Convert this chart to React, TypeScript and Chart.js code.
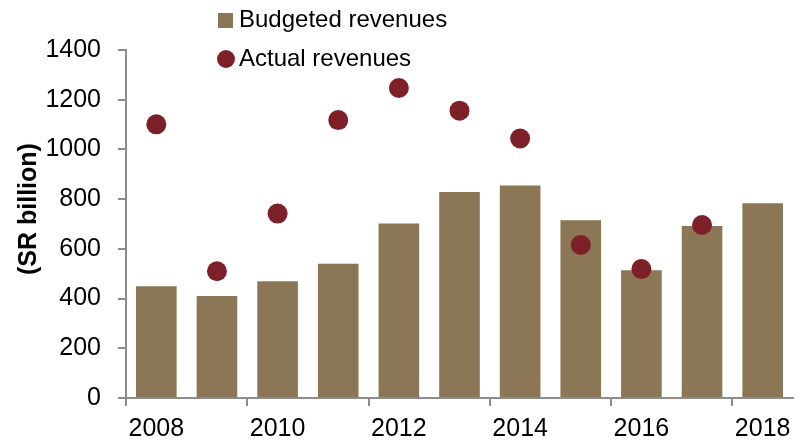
import React, { useEffect, useRef } from "react";
import { Chart, registerables } from "chart.js";

Chart.register(...registerables);

const years = ["2008", "2009", "2010", "2011", "2012", "2013", "2014", "2015", "2016", "2017", "2018"];
const budgeted = [450, 410, 470, 540, 702, 829, 855, 715, 514, 692, 783];
const actual = [1101, 510, 742, 1118, 1247, 1156, 1044, 616, 519, 696, null];
const yTicks = [0, 200, 400, 600, 800, 1000, 1200, 1400];

const BAR = "#8B7756";
const DOT = "#7D2028";
const AXIS = "#8c8c8c";
const FONT = "'Liberation Sans', Arial, sans-serif";

export default function App() {
  const ref = useRef<HTMLCanvasElement | null>(null);

  useEffect(() => {
    if (!ref.current) return;
    const chart = new Chart(ref.current, {
      data: {
        labels: years,
        datasets: [
          {
            type: "line",
            label: "Actual revenues",
            data: actual,
            showLine: false,
            pointRadius: 10,
            pointHoverRadius: 10,
            pointBackgroundColor: DOT,
            pointBorderColor: DOT,
            pointBorderWidth: 0,
            backgroundColor: DOT,
            borderColor: DOT,
            order: 0,
          },
          {
            type: "bar",
            label: "Budgeted revenues",
            data: budgeted,
            backgroundColor: BAR,
            borderWidth: 0,
            barPercentage: 0.67,
            categoryPercentage: 1,
            order: 1,
          },
        ],
      },
      options: {
        animation: false,
        responsive: true,
        maintainAspectRatio: false,
        layout: { padding: { top: 50, right: 4, bottom: 0, left: 0 } },
        plugins: { legend: { display: false }, tooltip: { enabled: false } },
        scales: {
          x: {
            type: "category",
            offset: true,
            grid: {
              offset: true,
              drawOnChartArea: false,
              drawTicks: true,
              tickLength: 8,
              lineWidth: 2,
              color: (ctx: any) =>
                typeof ctx.index === "number" && ctx.index % 2 === 0 ? AXIS : "rgba(0,0,0,0)",
            },
            border: { display: true, color: AXIS, width: 2 },
            ticks: {
              autoSkip: false,
              maxRotation: 0,
              minRotation: 0,
              padding: 8,
              color: "#000",
              font: { family: FONT, size: 25 },
              callback: (_v: any, i: number) => (i % 2 === 0 ? years[i] : ""),
            },
            afterFit: (s: any) => {
              s.height = 46;
            },
          },
          y: {
            min: 0,
            max: 1400,
            afterBuildTicks: (s: any) => {
              s.ticks = yTicks.map((v) => ({ value: v }));
            },
            grid: {
              drawOnChartArea: false,
              drawTicks: true,
              tickLength: 8,
              lineWidth: 2,
              color: AXIS,
            },
            border: { display: true, color: AXIS, width: 2 },
            ticks: {
              padding: 17,
              color: "#000",
              font: { family: FONT, size: 25 },
              callback: (v: any) => String(v),
            },
            afterFit: (s: any) => {
              s.width = 126;
            },
          },
        },
      },
    });
    return () => chart.destroy();
  }, []);

  const textStyle: React.CSSProperties = {
    position: "absolute",
    fontFamily: FONT,
    fontSize: 24,
    lineHeight: "24px",
    color: "#000",
    whiteSpace: "nowrap",
  };

  return (
    <div style={{ position: "fixed", left: 0, top: 0, width: 803, height: 444, background: "#fff" }}>
      <canvas ref={ref} />
      <div style={{ position: "absolute", left: 218, top: 12.5, width: 15, height: 15, background: BAR }} />
      <div style={{ ...textStyle, left: 239, top: 7 }}>Budgeted revenues</div>
      <div
        style={{
          position: "absolute",
          left: 217,
          top: 49.5,
          width: 18,
          height: 18,
          borderRadius: "50%",
          background: DOT,
        }}
      />
      <div style={{ ...textStyle, left: 239, top: 46 }}>Actual revenues</div>
      <div
        style={{
          position: "absolute",
          left: 27,
          top: 209,
          transform: "translate(-50%, -50%) rotate(-90deg)",
          fontFamily: FONT,
          fontWeight: "bold",
          fontSize: 25,
          lineHeight: "28px",
          whiteSpace: "nowrap",
          color: "#000",
        }}
      >
        (SR billion)
      </div>
    </div>
  );
}
